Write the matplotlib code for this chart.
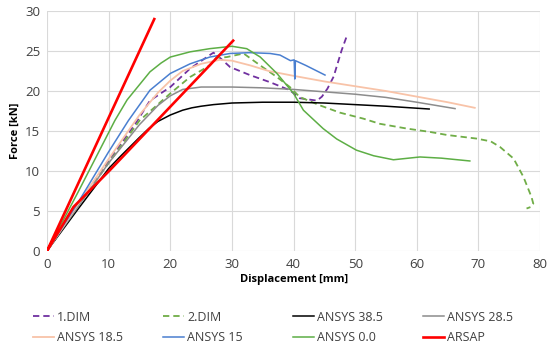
import numpy as np
import matplotlib
matplotlib.use("Agg")
import matplotlib.pyplot as plt

plt.rcParams['font.family'] = ['Open Sans', 'DejaVu Sans']

# force-displacement curves, values
dim1_x = [0, 5, 10, 14.5, 16.7, 20, 23.2, 26.4, 27, 28, 29.7, 32.9, 36.2, 39.4, 41, 43.8, 44.6, 45.5, 46.5, 47.8, 48.6]
dim1_y = [0, 5.8, 11.3, 16.1, 18.8, 20.5, 22.8, 24.5, 24.8, 24.2, 23.0, 22.0, 21.1, 20.1, 19.1, 18.8, 19.3, 20.3, 21.8, 25.1, 26.8]

dim2_x = [0, 5, 10, 15, 20, 23.2, 26.4, 27.5, 28.5, 29.2, 31.9, 34.6, 37.3, 39.4, 41, 44.3, 47.5, 51.3, 54, 58.4, 62, 64.9,
          69.7, 72, 73.5, 75.7, 77.3, 78.6, 78.9, 78.5, 77.8]
dim2_y = [0, 5.6, 11, 16.3, 19.7, 21.75, 23.2, 24.2, 24.2, 24.25, 24.7, 23.2, 21.75, 20.5, 19.25, 18.2, 17.3, 16.55, 15.9,
          15.3, 14.9, 14.5, 14.05, 13.7, 13.0, 11.55, 9.25, 6.75, 5.9, 5.5, 5.3]

a385_x = [0, 5, 10, 12, 15, 16.5, 18, 20, 22, 23.5, 25, 27, 30, 35, 40, 45, 50, 55, 62]
a385_y = [0, 5.2, 10.3, 11.9, 14.2, 15.3, 16.2, 17.0, 17.6, 17.9, 18.1, 18.3, 18.5, 18.6, 18.6, 18.5, 18.3, 18.1, 17.75]

a285_x = [0, 5, 10, 15, 18, 20, 22, 25, 30, 35, 40, 45, 50, 55, 60, 66.2]
a285_y = [0, 5.5, 11, 15.8, 18.2, 19.4, 20.2, 20.5, 20.5, 20.4, 20.2, 19.9, 19.6, 19.2, 18.6, 17.8]

a185_x = [0, 5, 10, 15, 18, 20, 22, 25, 28, 30, 33, 36, 40, 45, 50, 55, 60, 65, 69.4]
a185_y = [0, 5.8, 11.5, 17, 19.8, 21.3, 22.5, 23.4, 23.9, 23.8, 23.2, 22.5, 21.9, 21.2, 20.6, 20.0, 19.3, 18.6, 17.9]

a15_x = [0, 5, 10, 13.2, 16.7, 20, 23.2, 26.4, 29.7, 32.9, 36.2, 37.8, 39.5, 40.1, 40.2, 40.3, 42, 45.1]
a15_y = [0, 6, 12.4, 16.3, 20.1, 22.2, 23.4, 24.25, 24.7, 24.8, 24.7, 24.5, 23.8, 23.9, 21.5, 23.8, 23.2, 22.0]

a0_x = [0, 5, 11, 13, 16.7, 18.5, 20, 23.2, 26.4, 30, 32.4, 34.6, 37.3, 40, 41.6, 44.8, 47, 50.2, 53, 56.2, 60.5, 64, 68.6]
a0_y = [0, 7.3, 16.3, 18.9, 22.4, 23.5, 24.25, 24.9, 25.3, 25.6, 25.3, 24.25, 22.2, 19.7, 17.6, 15.3, 14.0, 12.6, 11.9, 11.4, 11.75, 11.6, 11.25]

arsap_x = [0, 17.4, np.nan, 0, 4.3, 10.2, 30.2]
arsap_y = [0, 29.0, np.nan, 0, 5.5, 10.1, 26.3]

x_ticks = [0, 10, 20, 30, 40, 50, 60, 70, 80]
y_ticks = [0, 5, 10, 15, 20, 25, 30]

fig = plt.figure(figsize=(5.5, 3.47), dpi=100)
ax = fig.add_axes([0.0855, 0.277, 0.8965, 0.691])

l1, = ax.plot(dim1_x, dim1_y, color='#7030A0', lw=1.3, ls=(0, (3.5, 2.2)), label='1.DIM')
l2, = ax.plot(dim2_x, dim2_y, color='#70AD47', lw=1.3, ls=(0, (3.5, 2.2)), label='2.DIM')
l3, = ax.plot(a385_x, a385_y, color='black', lw=1.1, label='ANSYS 38.5')
l4, = ax.plot(a285_x, a285_y, color='#8C8C8C', lw=1.1, label='ANSYS 28.5')
l5, = ax.plot(a185_x, a185_y, color='#F8C3A8', lw=1.3, label='ANSYS 18.5')
l6, = ax.plot(a15_x, a15_y, color='#4A7FD0', lw=1.1, label='ANSYS 15')
l7, = ax.plot(a0_x, a0_y, color='#5DAE45', lw=1.1, label='ANSYS 0.0')
l8, = ax.plot(arsap_x, arsap_y, color='#FF0000', lw=1.9, label='ARSAP')

ax.set_xlim(0, 80)
ax.set_ylim(0, 30)
ax.set_xticks(x_ticks)
ax.set_yticks(y_ticks)
ax.tick_params(length=0, labelsize=9.5, colors='#404040', pad=5)
ax.grid(True, color='#D9D9D9', lw=0.8)
ax.set_axisbelow(True)
for s in ax.spines.values():
    s.set_visible(False)

ax.set_xlabel('Displacement [mm]', fontsize=8, fontweight='bold', labelpad=2)
ax.set_ylabel('Force [kN]', fontsize=8, fontweight='bold', labelpad=3)

# four legend columns, evenly spaced like the original
cols = [(l1, l5), (l2, l6), (l3, l7), (l4, l8)]
for i, pair in enumerate(cols):
    x0 = (33 + i * 130) / 550
    leg = fig.legend(handles=list(pair), loc='upper left', bbox_to_anchor=(x0, 0.105),
                     frameon=False, fontsize=9, handlelength=1.7, handletextpad=0.25,
                     labelspacing=0.6, borderpad=0, borderaxespad=0)
    for t in leg.get_texts():
        t.set_color('#404040')

fig.savefig('out.png', dpi=100)
